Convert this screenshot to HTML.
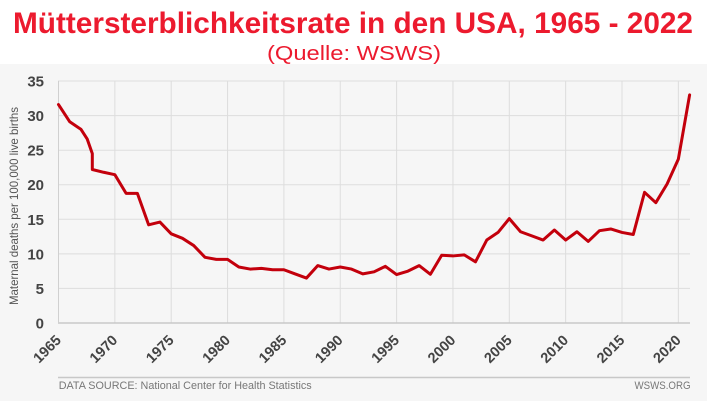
<!DOCTYPE html>
<html>
<head>
<meta charset="utf-8">
<style>
  html, body { margin:0; padding:0; background:#ffffff; }
  body { width:707px; height:401px; overflow:hidden; }
  svg { display:block; }
  text { font-family: "Liberation Sans", Arial, sans-serif; }
</style>
</head>
<body>
<svg width="707" height="401" viewBox="0 0 707 401" xmlns="http://www.w3.org/2000/svg">
  <!-- backgrounds -->
  <rect x="0" y="0" width="707" height="401" fill="#ffffff"/>
  <rect x="0" y="64" width="707" height="337" fill="#f6f6f6"/>

  <!-- Title -->
  <text x="13" y="33" font-size="30" font-weight="bold" fill="#ec1a2e" textLength="680" lengthAdjust="spacingAndGlyphs">Müttersterblichkeitsrate in den USA, 1965 - 2022</text>
  <text x="267" y="60" font-size="20" fill="#ec1a2e" textLength="174" lengthAdjust="spacingAndGlyphs">(Quelle: WSWS)</text>

  <!-- horizontal gridlines -->
  <g stroke="#dddddd" stroke-width="1">
    <line x1="58" y1="81" x2="690" y2="81"/>
    <line x1="58" y1="115.6" x2="690" y2="115.6"/>
    <line x1="58" y1="150.2" x2="690" y2="150.2"/>
    <line x1="58" y1="184.7" x2="690" y2="184.7"/>
    <line x1="58" y1="219.3" x2="690" y2="219.3"/>
    <line x1="58" y1="253.9" x2="690" y2="253.9"/>
    <line x1="58" y1="288.4" x2="690" y2="288.4"/>
  </g>
  <!-- vertical gridlines -->
  <g stroke="#dddddd" stroke-width="1">
    <line x1="58.5" y1="81" x2="58.5" y2="323"/>
    <line x1="114.85" y1="81" x2="114.85" y2="323"/>
    <line x1="171.2" y1="81" x2="171.2" y2="323"/>
    <line x1="227.55" y1="81" x2="227.55" y2="323"/>
    <line x1="283.9" y1="81" x2="283.9" y2="323"/>
    <line x1="340.25" y1="81" x2="340.25" y2="323"/>
    <line x1="396.6" y1="81" x2="396.6" y2="323"/>
    <line x1="452.95" y1="81" x2="452.95" y2="323"/>
    <line x1="509.3" y1="81" x2="509.3" y2="323"/>
    <line x1="565.65" y1="81" x2="565.65" y2="323"/>
    <line x1="622" y1="81" x2="622" y2="323"/>
    <line x1="678.35" y1="81" x2="678.35" y2="323"/>
  </g>
  <!-- axes -->
  <line x1="58" y1="323" x2="690" y2="323" stroke="#c8c8c8" stroke-width="1.5"/>
  <line x1="58.5" y1="81" x2="58.5" y2="323" stroke="#d0d0d0" stroke-width="1"/>

  <!-- y tick labels -->
  <g font-size="15" font-weight="bold" fill="#444444" text-anchor="end">
    <text x="44" y="86.5">35</text>
    <text x="44" y="121">30</text>
    <text x="44" y="155.6">25</text>
    <text x="44" y="190.2">20</text>
    <text x="44" y="224.8">15</text>
    <text x="44" y="259.3">10</text>
    <text x="44" y="293.9">5</text>
    <text x="44" y="328.5">0</text>
  </g>

  <!-- y axis title -->
  <text transform="translate(18,206) rotate(-90)" font-size="12" fill="#555555" text-anchor="middle" textLength="198" lengthAdjust="spacingAndGlyphs">Maternal deaths per 100,000 live births</text>

  <!-- x tick labels -->
  <g font-size="14.5" font-weight="bold" fill="#444444" text-anchor="end">
    <text transform="translate(62,341) rotate(-45)">1965</text>
    <text transform="translate(118.35,341) rotate(-45)">1970</text>
    <text transform="translate(174.7,341) rotate(-45)">1975</text>
    <text transform="translate(231.05,341) rotate(-45)">1980</text>
    <text transform="translate(287.4,341) rotate(-45)">1985</text>
    <text transform="translate(343.75,341) rotate(-45)">1990</text>
    <text transform="translate(400.1,341) rotate(-45)">1995</text>
    <text transform="translate(456.45,341) rotate(-45)">2000</text>
    <text transform="translate(512.8,341) rotate(-45)">2005</text>
    <text transform="translate(569.15,341) rotate(-45)">2010</text>
    <text transform="translate(625.5,341) rotate(-45)">2015</text>
    <text transform="translate(681.85,341) rotate(-45)">2020</text>
  </g>

  <!-- data line -->
  <g transform="translate(58.5,323) scale(11.27,6.914)">
    <polyline fill="none" stroke="#c3000c" stroke-width="3" stroke-linejoin="round" stroke-linecap="round" vector-effect="non-scaling-stroke"
      points="0,-31.6 1,-29.1 2,-28.0 2.55,-26.6 3,-24.5 3,-22.2 4,-21.8 5,-21.45 6,-18.75 7,-18.75 8,-14.2 9,-14.6 10,-12.9 11,-12.25 12,-11.2 13,-9.5 14,-9.2 15,-9.2 16,-8.1 17,-7.8 18,-7.9 19,-7.7 20,-7.7 21,-7.1 22,-6.5 23,-8.3 24,-7.8 25,-8.1 26,-7.8 27,-7.1 28,-7.4 29,-8.2 30,-7.0 31,-7.5 32,-8.3 33,-7.05 34,-9.8 35,-9.7 36,-9.85 37,-8.85 38,-12.0 39,-13.1 40,-15.1 41,-13.2 42,-12.6 43,-12.0 44,-13.45 45,-12.0 46,-13.2 47,-11.8 48,-13.35 49,-13.6 50,-13.1 51,-12.8 52,-18.9 53,-17.4 54,-20.1 55,-23.7 56,-33.0"/>
  </g>

  <!-- footer -->
  <line x1="58" y1="377.5" x2="690" y2="377.5" stroke="#c8c8c8" stroke-width="1.5"/>
  <text x="58.7" y="389" font-size="11" fill="#777777" textLength="253" lengthAdjust="spacingAndGlyphs">DATA SOURCE: National Center for Health Statistics</text>
  <text x="634.5" y="389" font-size="11" fill="#777777" textLength="56" lengthAdjust="spacingAndGlyphs">WSWS.ORG</text>
</svg>
</body>
</html>
